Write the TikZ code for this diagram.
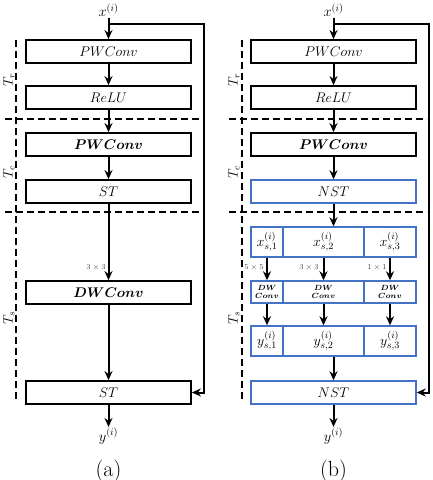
\RequirePackage{fix-cm}
\documentclass[tikz,border=0pt]{standalone}
\usepackage{bm}
\usetikzlibrary{arrows.meta}
\definecolor{nblue}{HTML}{4472C4}

\begin{document}
\begin{tikzpicture}[x=1pt,y=-1pt]
    \tikzset{blk/.style  = {draw,
        line width      = 1.8pt,
        minimum width   = 165pt,
        minimum height  = 23pt,
        inner sep       = 0pt,
        font = \fontsize{14}{16}\selectfont
        },
        nblk/.style = {blk, draw=nblue, line width=1.4pt},
        part/.style = {nblk, minimum width=#1, minimum height=30pt},
        dwpart/.style = {nblk, minimum width=#1, minimum height=22pt, align=center,
            font=\fontsize{7.5}{8.5}\selectfont},
        arr/.style  = {line width=2pt, -{Stealth[length=9pt,width=8pt]}},
        sep/.style  = {line width=2pt, dash pattern=on 7pt off 4pt},
        io/.style   = {font=\fontsize{14.5}{16}\selectfont, inner sep=1pt},
        ks/.style   = {font=\fontsize{7.5}{8.5}\selectfont, text=black!75, inner sep=0pt},
        tlab/.style = {rotate=90, font=\fontsize{13.5}{15}\selectfont, inner sep=0pt}
    }
    \useasboundingbox (0,0) rectangle (432,480);

    \def\Acol{108.5};
    \def\Bcol{333.5};

    % Panel (a).
    \node[io] (xinA) at (\Acol,10) {$x^{(i)}$};
    \node[blk] (pwA)   at (\Acol,51.5)  {$PWConv$};
    \node[blk] (reluA) at (\Acol,97.5)  {$ReLU$};
    \node[blk] (pwbA)  at (\Acol,144.5) {$\bm{PWConv}$};
    \node[blk] (stA)   at (\Acol,191.5) {$ST$};
    \node[blk] (dwA)   at (\Acol,292.5) {$\bm{DWConv}$};
    \node[blk] (stoA)  at (\Acol,392.5) {$ST$};
    \node[io] (youtA)  at (\Acol,436)   {$y^{(i)}$};
    \node[font=\fontsize{22}{24}\selectfont] (capA) at (\Acol,471) {(a)};
    \node[ks] (kA) at (96,268) {$3\times3$};

    \draw[arr] (xinA) -- (pwA);
    \draw[arr] (pwA) -- (reluA);
    \draw[arr] (reluA) -- (pwbA);
    \draw[arr] (pwbA) -- (stA);
    \draw[arr] (stA) -- (dwA);
    \draw[arr] (dwA) -- (stoA);
    \draw[arr] (stoA) -- (youtA);

    \coordinate (skA) at (\Acol,24);
    \coordinate (turnA) at (204,392.5);
    \draw[arr] (skA) -| (turnA) -- (stoA.east);

    \draw[sep] (5,119) -- (202,119);
    \draw[sep] (5,212) -- (202,212);
    \draw[sep] (16,40) -- (16,402);
    \node[tlab] (trA) at (9,80)  {$T_r$};
    \node[tlab] (tcA) at (9,172) {$T_c$};
    \node[tlab] (tsA) at (9,318) {$T_s$};

    % Panel (b).
    \node[io] (xinB) at (\Bcol,10) {$x^{(i)}$};
    \node[blk] (pwB)   at (\Bcol,51.5)  {$PWConv$};
    \node[blk] (reluB) at (\Bcol,97.5)  {$ReLU$};
    \node[blk] (pwbB)  at (\Bcol,144.5) {$\bm{PWConv}$};
    \node[nblk] (nstB) at (\Bcol,191.5) {$NST$};

    \node[part=32pt] (xsa) at (267,242)   {$x_{s,1}^{(i)}$};
    \node[part=81pt] (xsb) at (323.5,242) {$x_{s,2}^{(i)}$};
    \node[part=52pt] (xsc) at (390,242)   {$x_{s,3}^{(i)}$};

    \node[dwpart=32pt] (dwa) at (267,292)   {$\bm{DW}$\\$\bm{Conv}$};
    \node[dwpart=81pt] (dwb) at (323.5,292) {$\bm{DW}$\\$\bm{Conv}$};
    \node[dwpart=52pt] (dwc) at (390,292)   {$\bm{DW}$\\$\bm{Conv}$};

    \node[part=32pt] (ysa) at (267,341)   {$y_{s,1}^{(i)}$};
    \node[part=81pt] (ysb) at (323.5,341) {$y_{s,2}^{(i)}$};
    \node[part=52pt] (ysc) at (390,341)   {$y_{s,3}^{(i)}$};

    \node[nblk] (nstoB) at (\Bcol,392.5) {$NST$};
    \node[io] (youtB)  at (\Bcol,436)   {$y^{(i)}$};
    \node[font=\fontsize{22}{24}\selectfont] (capB) at (\Bcol,471) {(b)};

    \node[ks] (ka) at (254,268) {$5\times5$};
    \node[ks] (kb) at (309,268) {$3\times3$};
    \node[ks] (kc) at (377,268) {$1\times1$};

    \draw[arr] (xinB) -- (pwB);
    \draw[arr] (pwB) -- (reluB);
    \draw[arr] (reluB) -- (pwbB);
    \draw[arr] (pwbB) -- (nstB);
    \draw[arr] (nstB.south) -- (nstB.south |- xsb.north);
    \draw[arr] (xsa) -- (dwa);
    \draw[arr] (xsb) -- (dwb);
    \draw[arr] (xsc) -- (dwc);
    \draw[arr] (dwa) -- (ysa);
    \draw[arr] (dwb) -- (ysb);
    \draw[arr] (dwc) -- (ysc);
    \draw[arr] (nstoB.north |- ysb.south) -- (nstoB.north);
    \draw[arr] (nstoB) -- (youtB);

    \coordinate (skB) at (\Bcol,24);
    \coordinate (turnB) at (429,392.5);
    \draw[arr] (skB) -| (turnB) -- (nstoB.east);

    \draw[sep] (229,119) -- (427,119);
    \draw[sep] (229,212) -- (427,212);
    \draw[sep] (242,40) -- (242,402);
    \node[tlab] (trB) at (234,80)  {$T_r$};
    \node[tlab] (tcB) at (234,172) {$T_c$};
    \node[tlab] (tsB) at (234,318) {$T_s$};
\end{tikzpicture}
\end{document}
